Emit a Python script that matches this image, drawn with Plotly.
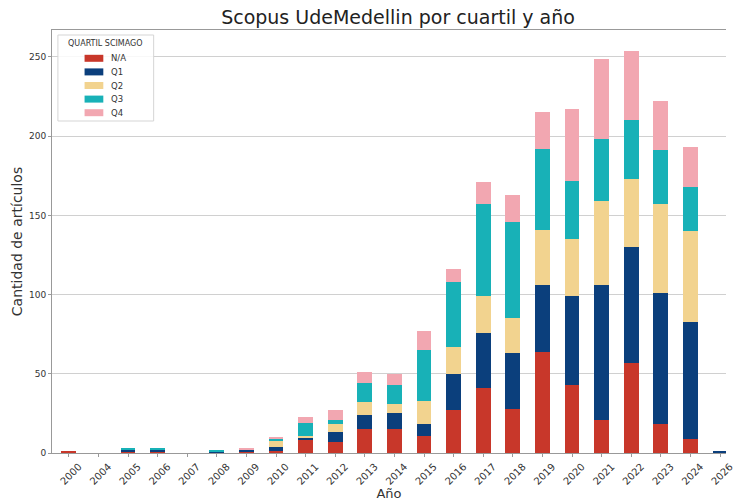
import plotly.graph_objects as go

# Datos
years = ['2000', '2004', '2005', '2006', '2007', '2008', '2009', '2010', '2011', '2012',
         '2013', '2014', '2015', '2016', '2017', '2018', '2019', '2020', '2021', '2022',
         '2023', '2024', '2026']
na = [1, 0, 1, 1, 0, 0, 1, 1, 8, 7, 15, 15, 11, 27, 41, 28, 64, 43, 21, 57, 18, 9, 0]
q1 = [0, 0, 1, 1, 0, 1, 1, 3, 2, 6, 9, 10, 7, 23, 35, 35, 42, 56, 85, 73, 83, 74, 1]
q2 = [0, 0, 0, 0, 0, 0, 0, 4, 1, 5, 8, 6, 15, 17, 23, 22, 35, 36, 53, 43, 56, 57, 0]
q3 = [0, 0, 1, 1, 0, 1, 0, 1, 8, 3, 12, 12, 32, 41, 58, 61, 51, 37, 39, 37, 34, 28, 0]
q4 = [0, 0, 0, 0, 0, 0, 1, 1, 4, 6, 7, 7, 12, 8, 14, 17, 23, 45, 51, 44, 31, 25, 0]

labels = ['N/A', 'Q1', 'Q2', 'Q3', 'Q4']
colors = ['#c8372a', '#0b3f7c', '#f2d38f', '#18b1b7', '#f2a7b1']
series = [na, q1, q2, q3, q4]

fig = go.Figure()
for name, vals, color in zip(labels, series, colors):
    fig.add_trace(go.Bar(x = years, y = vals, name = name, marker_color = color,
                         marker_line_width = 0, showlegend = False))

# leyenda estilo matplotlib (la de plotly es muy alta)
L, T, W, H = 52, 30, 683, 423
def px(x): return (x - L) / W
def py(y): return (T + H - y) / H

shapes = [dict(type = 'rect', xref = 'paper', yref = 'paper', x0 = px(58), x1 = px(155),
               y0 = py(35), y1 = py(121), fillcolor = 'rgba(255,255,255,0.85)',
               line = dict(color = '#d5d5d5', width = 1), layer = 'above')]
annotations = [dict(text = 'QUARTIL SCIMAGO', xref = 'paper', yref = 'paper', x = px(106.5), y = py(43.5),
                    showarrow = False, xanchor = 'center', yanchor = 'middle',
                    font = dict(size = 8, color = '#333333'))]
for i, (name, color) in enumerate(zip(labels, colors)):
    yc = 58.3 + i * 13.6
    shapes.append(dict(type = 'rect', xref = 'paper', yref = 'paper', x0 = px(85), x1 = px(104),
                       y0 = py(yc + 3.5), y1 = py(yc - 3.5), fillcolor = color,
                       line = dict(width = 0), layer = 'above'))
    annotations.append(dict(text = name, xref = 'paper', yref = 'paper', x = px(110), y = py(yc),
                            showarrow = False, xanchor = 'left', yanchor = 'middle',
                            font = dict(size = 8.5, color = '#333333')))

fig.update_layout(
    barmode = 'stack',
    bargap = 0.5,
    width = 735, height = 501,
    margin = dict(l = L, r = 0, t = T, b = 48),
    paper_bgcolor = 'white', plot_bgcolor = 'white',
    font = dict(family = 'DejaVu Sans', size = 9, color = '#333333'),
    title = dict(text = 'Scopus UdeMedellin por cuartil y año', xref = 'container', x = 0.5415,
                 xanchor = 'center', y = 0.965, yanchor = 'middle',
                 font = dict(size = 19, color = '#222222')),
    shapes = shapes,
    annotations = annotations,
)

fig.update_xaxes(type = 'category', range = [-0.57, 22.2], tickangle = -45,
                 tickfont = dict(size = 10), ticklabelshift = 10,
                 showline = True, linecolor = '#999999', ticks = 'outside', ticklen = 3,
                 tickcolor = '#999999', showgrid = False, mirror = True,
                 title = dict(text = 'Año', font = dict(size = 13), standoff = 0))
fig.update_yaxes(range = [0, 267], tickvals = [0, 50, 100, 150, 200, 250],
                 showline = True, linecolor = '#999999', ticks = 'outside', ticklen = 3,
                 tickcolor = '#999999', showgrid = True, gridcolor = '#d0d0d0',
                 zeroline = False,
                 title = dict(text = 'Cantidad de artículos', font = dict(size = 14), standoff = 3))

fig.write_html('out.html', config = {'displayModeBar': False},
               post_script = "document.body.style.margin = '0';")
